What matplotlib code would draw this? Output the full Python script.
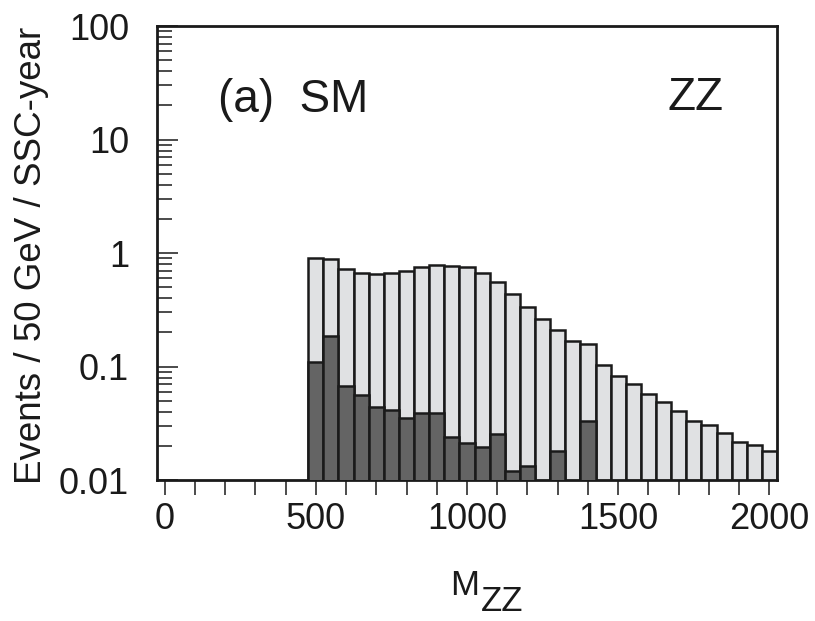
import numpy as np
import matplotlib
matplotlib.use("Agg")
import matplotlib.pyplot as plt

plt.rcParams['font.family'] = ['Liberation Sans', 'DejaVu Sans']

# bin centres (GeV), 50 GeV wide
mass = [500, 550, 600, 650, 700, 750, 800, 850, 900, 950, 1000, 1050,
        1100, 1150, 1200, 1250, 1300, 1350, 1400, 1450, 1500, 1550, 1600,
        1650, 1700, 1750, 1800, 1850, 1900, 1950, 2000]
# total (light) and signal-like (dark) events per bin
total = [0.90, 0.89, 0.72, 0.67, 0.65, 0.66, 0.69, 0.75, 0.78, 0.77, 0.75,
         0.66, 0.55, 0.435, 0.336, 0.262, 0.21, 0.168, 0.157, 0.103, 0.081,
         0.069, 0.056, 0.048, 0.0395, 0.032, 0.0295, 0.0248, 0.0207,
         0.0193, 0.0172]
dark = [0.109, 0.186, 0.067, 0.055, 0.043, 0.040, 0.034, 0.038, 0.038,
        0.0228, 0.020, 0.0184, 0.0244, 0.011, 0.0122, 0, 0.0169, 0, 0.0324,
        0, 0, 0, 0, 0, 0, 0, 0, 0, 0, 0, 0]

ink = '#1a1a1a'

fig = plt.figure(figsize=(8.15, 6.21), dpi=100)
ax = fig.add_axes([0.1926, 0.227, 0.7608, 0.731])

ax.bar(mass, total, width=50, bottom=1e-3, color='#e0e1e3',
       edgecolor=ink, linewidth=1.8, zorder=2)
m = np.array(mass)
d = np.array(dark)
ax.bar(m[d > 0], d[d > 0], width=50, bottom=1e-3, color='#646464',
       edgecolor=ink, linewidth=1.8, zorder=3)

ax.set_yscale('log')
ax.set_ylim(0.01, 100)
ax.set_xlim(-25, 2025)

ax.set_yticks([0.01, 0.1, 1, 10, 100])
ax.set_yticklabels(['0.01', '0.1', '1', '10', '100'])
ax.set_xticks(np.arange(0, 2001, 100))
ax.set_xticklabels([str(v) if v % 500 == 0 else '' for v in range(0, 2001, 100)])

ax.tick_params(axis='y', which='major', direction='in', length=15, width=1.1,
               labelsize=26, pad=20, right=False, colors=ink)
ax.tick_params(axis='y', which='minor', direction='in', length=11, width=1.1,
               right=False, colors=ink)
ax.tick_params(axis='x', which='major', direction='out', length=11, width=1.1,
               labelsize=26, pad=5, top=False, colors=ink)
for s in ax.spines.values():
    s.set_linewidth(2.0)
    s.set_color(ink)

ax.text(0.098, 0.811, '(a)  SM', transform=ax.transAxes, fontsize=33,
        va='baseline', ha='left', color=ink)
ax.text(0.823, 0.815, 'ZZ', transform=ax.transAxes, fontsize=33,
        va='baseline', ha='left', color=ink)

fig.text(32 / 815, 1 - 255 / 621, 'Events / 50 GeV / SSC-year', rotation=90,
         fontsize=26.5, ha='center', va='center', color=ink)
fig.text(450 / 815, 1 - 595 / 621, 'M', fontsize=25, ha='left',
         va='baseline', color=ink)
fig.text(481 / 815, 1 - 611 / 621, 'ZZ', fontsize=25, ha='left',
         va='baseline', color=ink)

fig.savefig('out.png', dpi=100)
